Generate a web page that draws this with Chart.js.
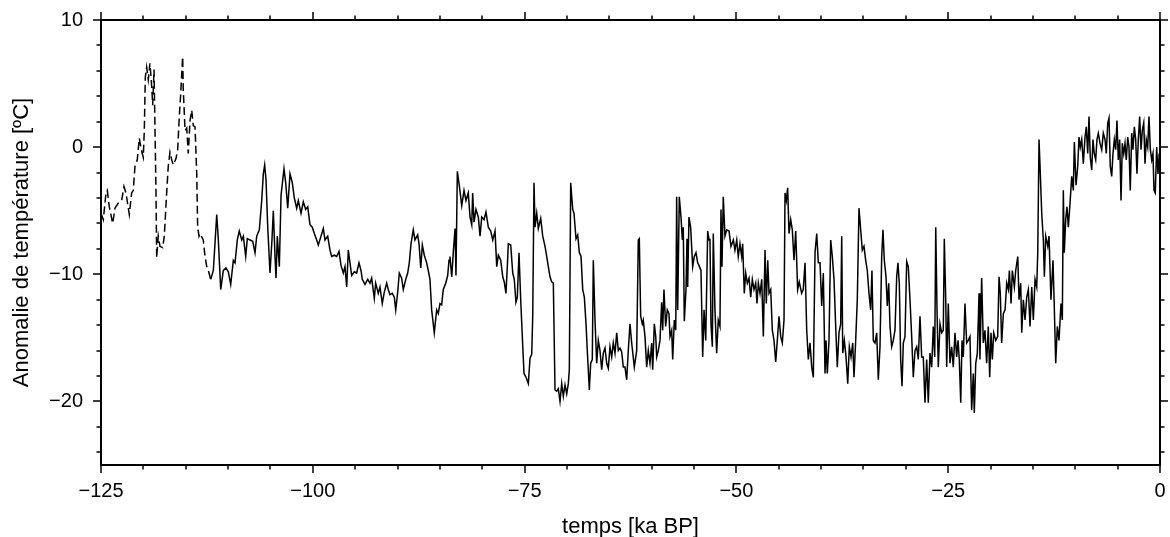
<!DOCTYPE html>
<html>
<head>
<meta charset="utf-8">
<script src="https://cdn.jsdelivr.net/npm/chart.js@4.4.1/dist/chart.umd.min.js"></script>
<style>
  html, body { margin: 0; padding: 0; background: #fff; }
  #wrap { width: 1170px; height: 537px; position: relative; }
</style>
</head>
<body>
<div id="wrap"><canvas id="c" width="1170" height="537"></canvas></div>
<script>
// ---- DATA (time in ka BP, temperature anomaly in °C) ----
// dashed part (last interglacial)
const dashTime = [-125.0,-124.73,-124.41,-124.26,-124.02,-123.62,-123.35,-122.96,-122.56,-122.29,-122.05,-121.66,-121.38,-121.19,-120.99,-120.72,-120.48,-120.24,-120.01,-119.89,-119.77,-119.61,-119.42,-119.22,-119.02,-118.90,-118.74,-118.63,-118.51,-118.43,-118.24,-118.04,-117.72,-117.53,-117.25,-117.06,-116.86,-116.65,-116.47,-116.15,-115.95,-115.76,-115.59,-115.47,-115.36,-115.29,-115.20,-115.08,-114.88,-114.70,-114.49,-114.29,-114.11,-113.90,-113.70,-113.59,-113.43,-113.31,-112.93,-112.72,-112.52,-112.33,-112.05];
const dashTemp = [-5.2,-5.7,-3.6,-3.4,-4.7,-6.0,-4.8,-4.4,-4.2,-3.1,-3.6,-5.3,-3.6,-3.4,-1.5,-1.0,0.7,-0.2,-0.8,1.3,5.5,6.3,5.3,6.6,4.8,3.3,6.1,1.6,-3.4,-8.7,-7.0,-7.8,-7.9,-7.0,-3.6,-1.5,-0.4,-1.0,-1.4,-0.9,-0.2,2.4,4.2,5.8,7.1,4.5,3.2,1.3,1.5,-0.5,2.1,2.9,1.7,1.6,-2.1,-6.3,-7.0,-6.8,-7.3,-8.6,-9.4,-9.7,-10.4];

// solid part (glacial period and Holocene)
const solidTime = [-112.05,-111.74,-111.34,-111.15,-110.87,-110.56,-110.25,-109.97,-109.69,-109.38,-109.18,-108.91,-108.68,-108.39,-108.20,-107.92,-107.73,-107.41,-107.09,-106.82,-106.62,-106.31,-106.03,-105.84,-105.68,-105.52,-105.32,-105.05,-104.82,-104.66,-104.46,-104.34,-104.19,-103.95,-103.75,-103.40,-103.20,-102.96,-102.69,-102.42,-102.18,-101.90,-101.71,-101.39,-101.12,-100.84,-100.60,-100.33,-100.06,-99.82,-99.54,-99.35,-99.03,-98.76,-98.56,-98.24,-97.97,-97.77,-97.46,-97.18,-96.91,-96.67,-96.40,-96.20,-96.00,-95.81,-95.61,-95.41,-95.10,-94.82,-94.55,-94.31,-94.16,-93.84,-93.52,-93.25,-93.05,-92.74,-92.58,-92.27,-92.07,-91.80,-91.56,-91.28,-91.09,-90.89,-90.62,-90.38,-90.21,-89.98,-89.79,-89.51,-89.32,-89.03,-88.80,-88.61,-88.41,-88.14,-87.94,-87.62,-87.46,-87.26,-87.07,-86.84,-86.56,-86.37,-86.17,-85.97,-85.66,-85.38,-85.19,-84.99,-84.79,-84.60,-84.31,-84.08,-83.92,-83.81,-83.60,-83.42,-83.21,-83.10,-82.94,-82.71,-82.42,-82.15,-81.92,-81.65,-81.44,-81.24,-81.13,-80.97,-80.74,-80.46,-80.26,-80.06,-79.79,-79.56,-79.28,-79.00,-78.76,-78.49,-78.29,-78.10,-77.82,-77.58,-77.40,-77.20,-77.04,-76.92,-76.64,-76.40,-76.22,-76.02,-75.86,-75.66,-75.46,-75.27,-75.07,-74.83,-74.56,-74.36,-74.16,-74.04,-73.89,-73.77,-73.57,-73.38,-73.10,-72.86,-72.59,-72.39,-72.20,-72.00,-71.80,-71.61,-71.41,-71.21,-71.02,-70.82,-70.62,-70.43,-70.23,-70.03,-69.84,-69.72,-69.56,-69.32,-69.17,-68.93,-68.73,-68.54,-68.34,-68.14,-67.95,-67.75,-67.60,-67.36,-67.20,-67.01,-66.89,-66.69,-66.49,-66.30,-66.10,-65.90,-65.71,-65.51,-65.31,-65.12,-64.92,-64.72,-64.53,-64.33,-64.13,-63.94,-63.74,-63.54,-63.35,-63.15,-62.95,-62.76,-62.56,-62.36,-62.05,-61.77,-61.58,-61.46,-61.30,-61.11,-60.99,-60.79,-60.59,-60.40,-60.20,-60.00,-59.88,-59.69,-59.52,-59.41,-59.22,-59.02,-58.82,-58.70,-58.55,-58.35,-58.16,-57.96,-57.84,-57.64,-57.52,-57.33,-57.16,-57.05,-56.93,-56.74,-56.54,-56.38,-56.27,-56.15,-55.95,-55.83,-55.75,-55.60,-55.40,-55.16,-54.97,-54.77,-54.57,-54.42,-54.18,-53.98,-53.82,-53.62,-53.39,-53.23,-53.12,-53.00,-52.84,-52.73,-52.53,-52.33,-52.14,-51.94,-51.82,-51.70,-51.55,-51.35,-51.15,-50.87,-50.64,-50.36,-50.17,-49.96,-49.78,-49.58,-49.38,-49.26,-49.07,-48.90,-48.71,-48.51,-48.31,-48.12,-47.92,-47.72,-47.57,-47.41,-47.21,-47.01,-46.82,-46.62,-46.47,-46.30,-46.15,-45.95,-45.76,-45.56,-45.36,-45.17,-44.97,-44.77,-44.58,-44.38,-44.26,-44.11,-43.95,-43.79,-43.59,-43.40,-43.20,-43.00,-42.77,-42.58,-42.30,-42.11,-41.90,-41.70,-41.51,-41.31,-41.11,-40.92,-40.72,-40.52,-40.33,-40.13,-39.93,-39.74,-39.54,-39.42,-39.27,-39.07,-38.87,-38.68,-38.48,-38.28,-38.09,-37.89,-37.69,-37.57,-37.45,-37.26,-37.06,-36.86,-36.67,-36.47,-36.27,-36.12,-35.92,-35.73,-35.53,-35.33,-35.14,-34.94,-34.74,-34.55,-34.35,-34.15,-34.00,-33.84,-33.64,-33.44,-33.25,-33.05,-32.85,-32.70,-32.54,-32.34,-32.19,-32.02,-31.87,-31.67,-31.48,-31.28,-31.08,-30.93,-30.77,-30.61,-30.45,-30.30,-30.10,-29.90,-29.71,-29.51,-29.31,-29.12,-28.92,-28.72,-28.53,-28.33,-28.13,-27.94,-27.74,-27.54,-27.35,-27.15,-26.95,-26.76,-26.59,-26.47,-26.32,-26.17,-25.97,-25.77,-25.58,-25.46,-25.29,-25.18,-24.99,-24.79,-24.59,-24.40,-24.20,-24.00,-23.84,-23.69,-23.52,-23.37,-23.22,-23.02,-22.82,-22.63,-22.43,-22.23,-22.04,-21.92,-21.75,-21.56,-21.36,-21.25,-21.05,-20.86,-20.66,-20.46,-20.27,-20.10,-19.95,-19.79,-19.63,-19.39,-19.16,-19.00,-18.85,-18.69,-18.49,-18.29,-18.09,-17.90,-17.78,-17.58,-17.43,-17.19,-17.03,-16.79,-16.64,-16.44,-16.32,-16.13,-15.93,-15.73,-15.54,-15.34,-15.14,-14.95,-14.75,-14.55,-14.43,-14.28,-14.16,-13.96,-13.77,-13.65,-13.49,-13.25,-13.10,-12.87,-12.63,-12.48,-12.31,-12.12,-11.92,-11.69,-11.53,-11.41,-11.30,-11.13,-10.98,-10.82,-10.62,-10.42,-10.23,-10.11,-9.91,-9.71,-9.56,-9.41,-9.24,-9.05,-8.85,-8.70,-8.53,-8.38,-8.23,-8.06,-7.91,-7.76,-7.59,-7.44,-7.28,-7.08,-6.88,-6.69,-6.49,-6.34,-6.17,-6.02,-5.87,-5.70,-5.55,-5.39,-5.23,-5.08,-4.92,-4.76,-4.60,-4.45,-4.28,-4.13,-3.98,-3.81,-3.66,-3.51,-3.34,-3.19,-3.03,-2.87,-2.72,-2.56,-2.40,-2.24,-2.09,-1.92,-1.77,-1.62,-1.45,-1.30,-1.14,-0.98,-0.83,-0.71,-0.56,-0.39,-0.24,-0.09,0.0];
const solidTemp = [-10.4,-9.7,-5.3,-7.3,-11.2,-9.7,-9.5,-9.8,-10.8,-8.9,-9.1,-7.3,-6.6,-7.3,-7.0,-8.6,-7.2,-7.3,-7.4,-8.3,-7.0,-6.5,-4.2,-2.1,-1.4,-2.6,-6.3,-9.9,-7.3,-5.0,-8.6,-10.3,-7.0,-9.4,-3.8,-1.7,-2.8,-4.8,-2.1,-2.8,-4.0,-4.8,-4.2,-5.2,-4.3,-4.9,-4.7,-6.1,-6.3,-6.8,-7.3,-7.7,-7.0,-6.4,-7.3,-7.0,-8.1,-8.6,-8.5,-8.6,-8.2,-9.3,-9.9,-9.4,-11.0,-8.1,-9.1,-10.1,-9.8,-9.9,-9.1,-9.7,-10.4,-10.8,-10.4,-10.7,-10.3,-11.9,-10.7,-11.5,-11.0,-12.3,-11.4,-10.7,-11.2,-11.6,-11.5,-11.8,-12.8,-11.4,-9.9,-10.3,-11.2,-10.4,-9.9,-9.1,-7.6,-6.5,-7.3,-6.9,-7.6,-9.5,-7.7,-8.5,-9.1,-9.7,-10.4,-12.8,-14.6,-12.8,-13.1,-12.3,-12.4,-11.2,-10.7,-10.1,-8.9,-8.6,-10.2,-8.3,-6.4,-10.1,-1.9,-3.0,-4.6,-3.4,-4.2,-3.6,-5.5,-6.1,-3.6,-5.9,-4.9,-5.5,-7.0,-5.5,-5.7,-5.1,-6.3,-6.6,-7.3,-6.6,-9.4,-8.5,-8.9,-10.2,-10.6,-11.5,-9.4,-7.6,-7.7,-9.9,-10.4,-12.2,-11.8,-8.3,-12.0,-14.9,-17.8,-18.1,-18.6,-16.6,-16.3,-13.3,-2.8,-6.3,-5.2,-6.4,-5.6,-7.0,-7.8,-8.6,-9.4,-10.2,-10.6,-10.7,-19.1,-19.2,-19.0,-20.0,-18.6,-19.6,-18.7,-19.4,-18.6,-17.5,-2.8,-4.9,-5.2,-7.2,-6.9,-8.3,-8.6,-11.2,-11.8,-13.9,-16.0,-19.1,-17.0,-16.7,-8.9,-13.6,-17.0,-15.2,-16.0,-17.5,-16.2,-15.8,-17.0,-17.4,-15.7,-16.5,-15.4,-16.2,-14.6,-16.0,-15.8,-16.1,-17.3,-17.3,-18.3,-16.0,-13.9,-15.4,-17.3,-16.0,-7.3,-7.2,-13.3,-13.9,-13.6,-14.9,-17.3,-16.0,-17.0,-15.4,-17.5,-13.9,-14.9,-16.5,-16.0,-15.2,-12.2,-14.4,-11.2,-14.1,-12.8,-13.1,-14.9,-14.4,-16.7,-13.6,-14.4,-3.9,-12.8,-3.9,-5.5,-7.3,-6.3,-13.7,-11.2,-7.2,-11.0,-5.5,-6.3,-9.4,-8.6,-8.3,-9.1,-9.3,-9.7,-16.5,-12.8,-15.2,-6.6,-7.3,-7.2,-13.9,-15.7,-6.8,-12.8,-16.2,-13.6,-14.1,-4.9,-9.4,-3.9,-7.0,-6.5,-6.6,-7.8,-7.3,-8.1,-7.3,-8.6,-7.6,-8.6,-7.6,-11.5,-9.9,-10.7,-10.3,-11.8,-10.4,-11.2,-10.7,-12.3,-10.7,-11.5,-10.4,-14.9,-8.1,-12.3,-8.9,-11.5,-11.2,-14.4,-15.2,-16.9,-15.2,-13.3,-14.9,-15.4,-13.6,-3.6,-4.2,-3.2,-6.8,-5.7,-6.5,-8.9,-6.6,-11.2,-10.6,-11.5,-11.2,-9.1,-14.4,-16.7,-15.4,-17.3,-18.1,-8.3,-6.8,-9.1,-9.1,-12.5,-9.9,-17.8,-15.2,-17.8,-15.2,-7.3,-8.6,-10.4,-14.1,-17.3,-14.6,-13.9,-7.0,-16.2,-15.2,-16.5,-18.6,-15.7,-16.5,-15.4,-18.1,-15.2,-12.0,-4.8,-6.5,-8.1,-7.8,-8.9,-9.7,-11.5,-12.8,-9.7,-15.2,-15.4,-14.6,-18.3,-15.7,-8.6,-6.5,-8.9,-10.2,-12.5,-10.7,-14.1,-15.7,-15.2,-14.4,-10.2,-9.1,-10.7,-16.7,-18.8,-15.4,-14.9,-9.0,-9.4,-12.0,-14.9,-18.1,-16.0,-15.7,-16.7,-13.3,-16.5,-16.5,-20.1,-16.7,-20.1,-16.2,-17.3,-14.1,-16.5,-6.3,-12.8,-17.3,-13.9,-14.6,-14.4,-7.2,-12.0,-17.3,-12.3,-17.0,-15.7,-17.3,-14.6,-16.5,-15.2,-16.7,-20.1,-15.2,-16.5,-12.3,-15.4,-15.2,-14.9,-20.7,-17.8,-20.9,-17.0,-16.2,-11.5,-16.7,-10.3,-15.4,-14.4,-17.0,-14.1,-18.1,-14.6,-16.7,-14.6,-15.2,-14.9,-10.2,-11.5,-15.4,-13.1,-12.8,-10.7,-11.2,-9.7,-12.3,-9.7,-11.0,-9.7,-8.6,-12.0,-10.7,-14.6,-12.0,-13.6,-11.8,-11.2,-14.1,-11.0,-13.6,-10.4,-11.0,-8.3,0.6,-1.5,-5.2,-7.3,-10.2,-7.0,-7.8,-7.0,-12.0,-8.9,-12.5,-17.0,-14.1,-15.2,-12.3,-13.6,-3.4,-8.3,-5.7,-4.7,-6.3,-4.4,-2.3,-3.4,0.4,-3.0,-1.5,0.8,0.0,0.6,-1.3,0.8,1.6,-0.5,2.4,-0.8,-1.8,0.6,-0.5,-1.0,0.6,1.1,0.3,-0.2,1.1,0.6,-0.5,1.9,2.3,-1.5,-2.3,-0.5,0.6,-0.2,2.1,-1.0,0.6,-4.2,0.3,-0.5,0.3,-1.0,0.8,0.0,-3.4,1.1,-0.2,1.6,0.6,-2.1,0.6,2.4,-0.2,1.3,1.9,-1.3,0.6,0.0,2.4,-0.2,-1.0,-0.5,-3.4,-3.6,0.0,-2.1,-0.5,-1.5];

// axis ticks
const xMajorTicks = [-125, -100, -75, -50, -25, 0];
const xTickLabels = ['\u2212125', '\u2212100', '\u221275', '\u221250', '\u221225', '0'];
const xMinorTicks = [-120,-115,-110,-105,-95,-90,-85,-80,-70,-65,-60,-55,-45,-40,-35,-30,-20,-15,-10,-5];
const yMajorTicks = [-20, -10, 0, 10];
const yTickLabels = ['\u221220', '\u221210', '0', '10'];
const yMinorTicks = [-24,-22,-18,-16,-14,-12,-8,-6,-4,-2,2,4,6,8];

const xTitle = 'temps [ka BP]';
const yTitle = 'Anomalie de température [ºC]';

// ---- CHART ----
const toXY = (xs, ys) => xs.map((x, i) => ({ x: x, y: ys[i] }));
const FONT = "'Liberation Sans', Arial, Helvetica, sans-serif";

const frameTicks = {
  id: 'frameTicks',
  afterDraw(chart) {
    const { ctx, chartArea: a, scales } = chart;
    const xs = scales.x, ys = scales.y;
    ctx.save();
    ctx.strokeStyle = '#000';
    ctx.lineCap = 'butt';
    ctx.lineWidth = 1.5;
    const MAJ = 8, MIN = 4.5;
    const drawX = (v, len) => {
      const p = Math.round(xs.getPixelForValue(v));
      ctx.beginPath();
      ctx.moveTo(p, a.bottom); ctx.lineTo(p, a.bottom + len);
      ctx.moveTo(p, a.top); ctx.lineTo(p, a.top - len);
      ctx.stroke();
    };
    const drawY = (v, len) => {
      const p = Math.round(ys.getPixelForValue(v));
      ctx.beginPath();
      ctx.moveTo(a.left, p); ctx.lineTo(a.left - len, p);
      ctx.moveTo(a.right, p); ctx.lineTo(a.right + len, p);
      ctx.stroke();
    };
    xMajorTicks.forEach(v => drawX(v, MAJ));
    xMinorTicks.forEach(v => drawX(v, MIN));
    yMajorTicks.forEach(v => drawY(v, MAJ));
    yMinorTicks.forEach(v => drawY(v, MIN));
    ctx.lineWidth = 2;
    ctx.strokeRect(a.left, a.top, a.right - a.left, a.bottom - a.top);
    ctx.restore();
  }
};

new Chart(document.getElementById('c'), {
  type: 'line',
  data: {
    datasets: [
      {
        data: toXY(dashTime, dashTemp),
        borderColor: '#000',
        borderWidth: 1.5,
        borderDash: [8, 4],
        pointRadius: 0,
        tension: 0,
        fill: false
      },
      {
        data: toXY(solidTime, solidTemp),
        borderColor: '#000',
        borderWidth: 1.5,
        pointRadius: 0,
        tension: 0,
        fill: false
      }
    ]
  },
  options: {
    responsive: false,
    animation: false,
    events: [],
    layout: { padding: { left: 0, right: 10, top: 20, bottom: 0 } },
    plugins: { legend: { display: false }, tooltip: { enabled: false } },
    scales: {
      x: {
        type: 'linear',
        min: -125, max: 0,
        grid: { display: false, drawTicks: false },
        border: { display: false },
        afterFit(s) { s.height = 72; s.paddingLeft = 0; s.paddingRight = 0; },
        afterBuildTicks(s) { s.ticks = xMajorTicks.map(v => ({ value: v })); },
        ticks: {
          color: '#000',
          padding: 14,
          maxRotation: 0,
          autoSkip: false,
          font: { family: FONT, size: 20 },
          callback(v) { const i = xMajorTicks.indexOf(v); return i >= 0 ? xTickLabels[i] : ''; }
        },
        title: {
          display: true, text: xTitle, color: '#000',
          font: { family: FONT, size: 22 },
          padding: { top: 0, bottom: -3 }
        }
      },
      y: {
        type: 'linear',
        min: -25, max: 10,
        grid: { display: false, drawTicks: false },
        border: { display: false },
        afterFit(s) { s.width = 101; s.paddingTop = 0; s.paddingBottom = 0; },
        afterBuildTicks(s) { s.ticks = yMajorTicks.map(v => ({ value: v })); },
        ticks: {
          color: '#000',
          padding: 18,
          autoSkip: false,
          font: { family: FONT, size: 20 },
          callback(v) { const i = yMajorTicks.indexOf(v); return i >= 0 ? yTickLabels[i] : ''; }
        },
        title: {
          display: true, text: yTitle, color: '#000',
          font: { family: FONT, size: 22 },
          padding: { top: 9, bottom: 0 }
        }
      }
    }
  },
  plugins: [frameTicks]
});
</script>
</body>
</html>
